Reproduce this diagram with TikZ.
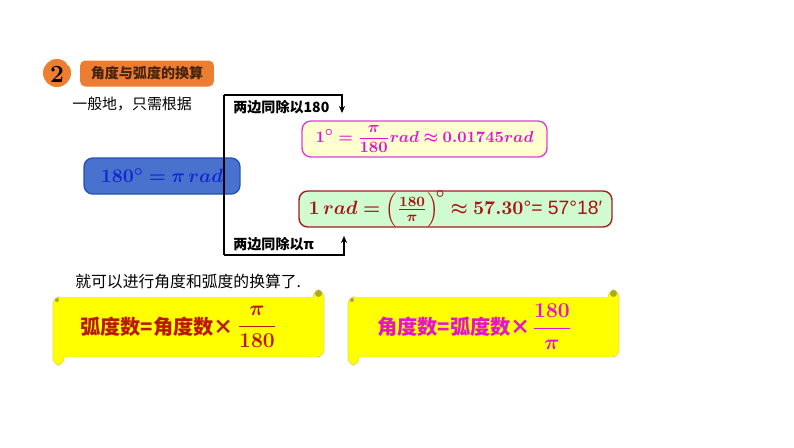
\documentclass[tikz,border=0pt]{standalone}
\usepackage{amsmath,bm}
\usepackage{fontspec}
\newfontfamily\cjk{Noto Sans CJK SC}
\newfontfamily\arial{Liberation Sans}
\usetikzlibrary{calc,arrows.meta}
\definecolor{badge}{RGB}{237,125,49}
\definecolor{badgetext}{RGB}{70,35,10}
\definecolor{mainfill}{RGB}{72,114,206}
\definecolor{mainline}{RGB}{40,80,180}
\definecolor{maintext}{RGB}{20,40,210}
\definecolor{pinkfill}{RGB}{255,255,208}
\definecolor{pinkline}{RGB}{225,60,220}
\definecolor{pinktext}{RGB}{228,20,205}
\definecolor{greenfill}{RGB}{208,250,208}
\definecolor{greenline}{RGB}{160,30,30}
\definecolor{redtext}{RGB}{170,20,20}
\definecolor{scrollfill}{RGB}{255,255,0}
\definecolor{scrollline}{RGB}{222,222,90}
\definecolor{scrolldot}{RGB}{170,170,40}
\definecolor{scrollred}{RGB}{185,25,0}
\tikzset{
  formbox/.style={rounded corners=5pt, minimum height=0.72cm, inner sep=0pt, line width=0.8pt},
  hint/.style={font=\cjk\bfseries\fontsize{8}{10}\selectfont, anchor=west, inner sep=0pt},
  say/.style={font=\cjk\fontsize{8.5}{10}\selectfont, anchor=west, inner sep=0pt},
  rule/.style={font=\cjk\bfseries\fontsize{11.5}{14}\selectfont, anchor=west, inner sep=0pt},
  bracket/.style={line width=1.1pt, -{Stealth[length=4pt,width=3.5pt]}},
}
\begin{document}
\begin{tikzpicture}[x=0.02cm,y=-0.02cm]
  \useasboundingbox (0,0) rectangle (794,447);
  % заголовок
  \fill[badge] (57,73) circle (14);
  \fill[white] (70,62) circle (4);
  \node[font=\bfseries\fontsize{14}{14}\selectfont, text=black] (num) at (57,74) {2};
  \node[fill=badge, rounded corners=3pt, minimum width=2.68cm, minimum height=0.52cm,
        font=\cjk\bfseries\fontsize{8}{10}\selectfont, text=badgetext] (title) at (147,73.5) {角度与弧度的换算};
  \node[say] (intro) at (72,104) {一般地，只需根据};
  % формулы
  \node[formbox, fill=mainfill, draw=mainline, minimum width=3.12cm, text=maintext,
        font=\fontsize{10.8}{13}\selectfont] (main) at (162,176) {$\bm{180^\circ = \pi\, rad}$};
  \node[formbox, fill=pinkfill, draw=pinkline, minimum width=4.9cm, text=pinktext,
        font=\fontsize{9.5}{12}\selectfont] (deg) at (424.5,139) {$\bm{1^\circ = \dfrac{\pi}{180} rad \approx 0.01745 rad}$};
  \node[formbox, fill=greenfill, draw=greenline, minimum width=6.26cm, text=redtext,
        font=\fontsize{11}{13}\selectfont] (rad) at (455.5,209)
        {$\bm{1\, rad = \Bigl(\frac{180}{\pi}\Bigr)^{\!\circ} \approx 57.30}${\arial °= 57°18′}};
  % скобка: (224,95) --- верхний угол, (224,255) --- нижний угол
  \coordinate (up) at (224,95);
  \coordinate (down) at (224,255);
  \coordinate (degtip) at (342,113);
  \coordinate (radtip) at (344,236);
  \draw[line width=1.1pt] (up) -- (down);
  \draw[bracket] (up) -- (degtip |- up) -- (degtip);
  \draw[bracket] (down) -- (radtip |- down) -- (radtip);
  \node[hint] (div180) at (233,107) {两边同除以180};
  \node[hint] (divpi) at (233,244) {两边同除以π};
  \node[say, font=\cjk\fontsize{9}{10}\selectfont] (then) at (75,282) {就可以进行角度和弧度的换算了.};
  % свитки
  \foreach \s in {0,295} {
    \fill[scrollfill] (58+\s,297) rectangle (320+\s,357);
    \draw[scrollline, fill=scrollfill, rounded corners=4pt] (313+\s,290) rectangle (324+\s,357);
    \draw[scrollline, fill=scrollfill, rounded corners=4pt] (53+\s,297) rectangle (64+\s,365);
    \fill[scrollfill] (58+\s,298) rectangle (318+\s,356);
    \fill[scrolldot] (318.5+\s,293.5) circle (3.5);
    \fill[scrolldot] (57+\s,300) circle (2);
  }
  \node[rule, text=scrollred] (toRad) at (80,327) {弧度数=角度数×};
  \node[text=scrollred, font=\fontsize{12.5}{15}\selectfont] (fracA) at (257,327) {$\bm{\dfrac{\pi}{180}}$};
  \node[rule, text=pinktext] (toDeg) at (377,327) {角度数=弧度数×};
  \node[text=pinktext, font=\fontsize{12.5}{15}\selectfont] (fracB) at (552,327) {$\bm{\dfrac{180}{\pi}}$};
\end{tikzpicture}
\end{document}
